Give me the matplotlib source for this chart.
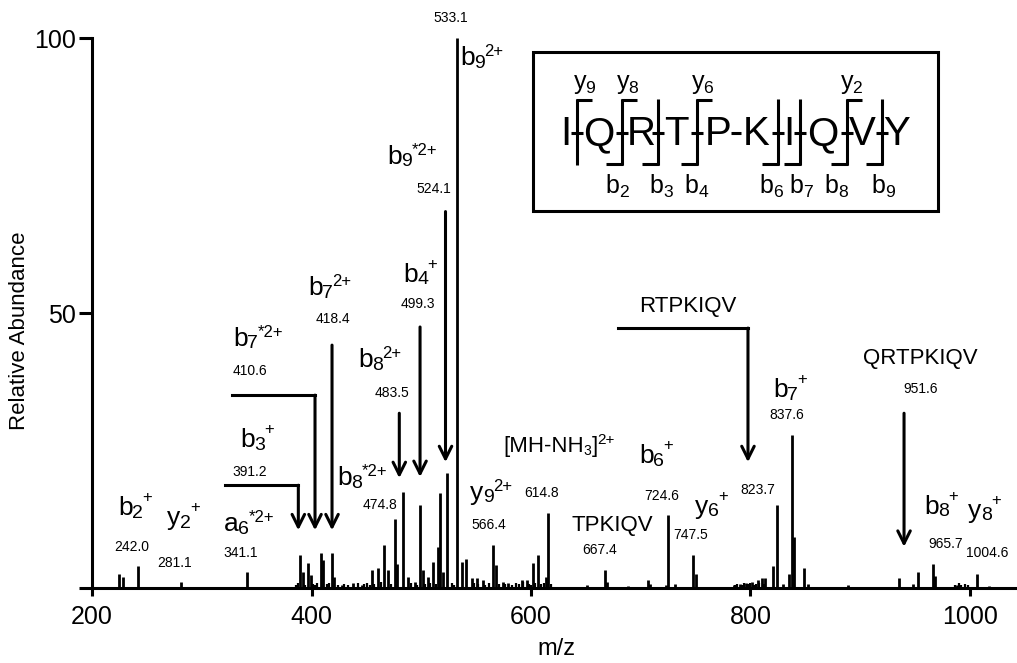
import matplotlib
matplotlib.use("Agg")
import matplotlib.pyplot as plt
from matplotlib.patches import Rectangle
from matplotlib.lines import Line2D
from matplotlib.transforms import IdentityTransform

plt.rcParams['font.family'] = ['Liberation Sans', 'DejaVu Sans']
plt.rcParams['mathtext.fontset'] = 'custom'
plt.rcParams['mathtext.rm'] = 'Liberation Sans'
plt.rcParams['mathtext.it'] = 'Liberation Sans:italic'
plt.rcParams['mathtext.bf'] = 'Liberation Sans:bold'

# ---------------- data ----------------
peak_mz = [224.9, 228.0, 241.9, 280.8, 341.2, 389.5, 392.0, 397.1, 399.3, 408.7,
           410.8, 418.7, 420.5, 427.5, 438.1, 445.7, 454.9, 460.9, 466.3, 470.0,
           476.1, 478.2, 483.6, 488.2, 494.3, 498.9, 501.9, 506.4, 511.0, 515.3,
           517.1, 519.5, 523.7, 532.9, 536.9, 540.8, 546.0, 550.5, 556.5, 565.7,
           567.9, 574.8, 579.3, 591.5, 596.1, 602.1, 606.1, 613.7, 615.8, 651.3,
           667.4, 669.5, 688.7, 706.9, 708.4, 723.0, 725.1, 731.2, 747.9, 750.1,
           785.0, 790.4, 796.0, 801.0, 806.8, 810.5, 813.2, 820.8, 824.4, 829.9,
           835.4, 837.5, 839.6, 849.0, 852.7, 888.5, 935.3, 948.3, 952.9, 966.0,
           968.1, 988.5, 1006.0, 1017.6]
peak_int = [2.5, 2.0, 4.0, 1.1, 3.0, 6.0, 3.0, 4.5, 2.4, 6.4,
            5.1, 6.4, 2.0, 0.5, 1.0, 0.5, 3.3, 3.7, 7.9, 3.3,
            12.5, 4.3, 17.5, 2.0, 1.1, 15.1, 3.3, 2.0, 4.8, 7.5,
            17.2, 3.0, 21.0, 100.0, 4.8, 5.3, 1.8, 1.8, 1.5, 7.8,
            4.2, 1.1, 1.0, 1.5, 1.5, 4.5, 6.0, 2.0, 13.6, 0.5,
            3.3, 1.1, 0.3, 1.5, 0.7, 0.5, 13.3, 0.7, 6.0, 2.5,
            0.5, 0.7, 0.9, 1.1, 1.5, 1.8, 1.8, 4.0, 15.1, 0.7,
            2.5, 27.8, 9.3, 3.7, 0.7, 0.5, 1.8, 0.7, 2.9, 4.4,
            2.2, 0.6, 2.5, 0.4]
noise_mz = [386, 388, 394, 401, 403, 405, 414, 416, 424, 430, 433, 442, 448, 451,
            453, 457, 463, 472, 491, 496, 503, 508, 513, 528, 530, 548, 552, 558,
            562, 571, 576, 583, 586, 589, 593, 598, 600, 604, 609, 612, 618,
            786, 788, 792, 794, 798, 800, 803, 805, 808, 812, 986, 990, 992, 995, 998]
noise_int = [0.6, 0.9, 0.5, 0.8, 0.6, 1.0, 0.7, 0.9, 0.5, 0.8, 0.6, 0.9, 0.7, 1.0,
             0.6, 0.8, 1.1, 0.7, 0.9, 0.6, 0.8, 1.0, 0.7, 0.9, 0.6, 1.0, 0.8, 0.6,
             0.9, 0.7, 0.8, 0.6, 0.9, 0.7, 1.1, 0.8, 0.6, 0.9, 0.7, 1.0, 0.8,
             0.6, 0.8, 0.5, 0.9, 0.7, 1.0, 0.6, 0.8, 0.9, 0.7, 0.6, 0.9, 0.5, 0.8, 0.6]

x_ticks = [200, 400, 600, 800, 1000]
y_ticks = [0, 50, 100]
y_tick_labels = ["", "50", "100"]

# arrows: (x, y_start, y_tip, horizontal start x or None)
arrows = [
    (388.0, 18.7, 10.5, 321.2),   # b3+
    (403.2, 35.1, 10.5, 327.6),   # b7*2+
    (418.7, 44.2, 10.5, None),    # b7 2+
    (480.0, 31.8, 20.0, None),    # b8 2+
    (498.9, 47.5, 20.2, None),    # b4+
    (522.1, 68.5, 22.9, None),    # b9*2+
    (797.7, 47.3, 22.9, 679.3),   # RTPKIQV
    (939.9, 31.8, 7.5, None),     # QRTPKIQV
]

# ion labels: (main, subscript, superscript, left x px, baseline y px)
ion_labels = [
    ("b", "2", "+", 118, 515),
    ("y", "2", "+", 167, 525),
    ("a", "6", "*2+", 224, 531),
    ("b", "3", "+", 240, 447),
    ("b", "7", "*2+", 233, 346),
    ("b", "7", "2+", 308, 295),
    ("b", "4", "+", 403, 282),
    ("b", "9", "*2+", 387, 164),
    ("b", "9", "2+", 460, 65),
    ("b", "8", "2+", 358, 367),
    ("b", "8", "*2+", 337, 485),
    ("y", "9", "2+", 470, 500),
    ("b", "6", "+", 639, 463),
    ("y", "6", "+", 695, 514),
    ("b", "7", "+", 773, 397),
    ("b", "8", "+", 924, 514),
    ("y", "8", "+", 968, 518),
]
# m/z value labels: (text, center x px, baseline y px)
mz_labels = [
    ("242.0", 132, 551), ("281.1", 175, 567), ("341.1", 241, 557),
    ("391.2", 250, 476), ("410.6", 250, 375), ("418.4", 333, 323),
    ("499.3", 418, 308), ("524.1", 434, 193), ("533.1", 451, 22),
    ("483.5", 392, 397), ("474.8", 380, 509), ("566.4", 489, 529),
    ("614.8", 542, 497), ("667.4", 600, 554), ("724.6", 662, 500),
    ("747.5", 691, 539), ("823.7", 758, 494), ("837.6", 787, 419),
    ("951.6", 921, 393), ("965.7", 946, 548), ("1004.6", 987, 557),
]
# fragment labels: (text, center x px, baseline y px)
frag_labels = [("RTPKIQV", 688, 312), ("QRTPKIQV", 920, 364), ("TPKIQV", 612, 531)]

# peptide sequence box
seq_letters = ["I", "Q", "R", "T", "P", "K", "I", "Q", "V", "Y"]
seq_x = [566, 599, 641, 676, 718, 756, 789, 823, 862, 897]
bond_x = [577, 622, 658, 697, 778, 800, 847, 882]
bond_top = [True, True, False, True, False, False, True, False]
bond_bot = [False, True, True, True, True, True, True, True]
y_ion_labels = [(r'$\mathregular{y_9}$', 585), (r'$\mathregular{y_8}$', 628),
                (r'$\mathregular{y_6}$', 703), (r'$\mathregular{y_2}$', 852)]
b_ion_labels = [(r'$\mathregular{b_2}$', 618), (r'$\mathregular{b_3}$', 662),
                (r'$\mathregular{b_4}$', 697), (r'$\mathregular{b_6}$', 772),
                (r'$\mathregular{b_7}$', 802), (r'$\mathregular{b_8}$', 837),
                (r'$\mathregular{b_9}$', 884)]

# ---------------- figure ----------------
W, H = 1017, 663
fig = plt.figure(figsize=(W / 100, H / 100), dpi=100)
renderer = fig.canvas.get_renderer()
ident = IdentityTransform()

def P(x, y):
    return (x / W, 1 - y / H)

def dtext(x, y, s, fs, **kw):
    # x, y in pixel coords measured from top-left
    return fig.text(x, H - y, s, fontsize=fs, transform=ident, va='baseline', **kw)

def right_px(t):
    bb = t.get_window_extent(renderer)
    return bb.x1

ax = fig.add_axes([92 / W, 1 - 588 / H, (1017 - 92) / W, (588 - 38.5) / H])
ax.set_xlim(200, 200 + 925 / 1.0975)
ax.set_ylim(0, 100)

ax.vlines(noise_mz, 0, noise_int, color='black', lw=1.6, clip_on=False)
ax.vlines(peak_mz, 0, peak_int, color='black', lw=2.0, clip_on=False)

for sp in ['top', 'right']:
    ax.spines[sp].set_visible(False)
for sp in ['left', 'bottom']:
    ax.spines[sp].set_linewidth(2.2)
ax.set_xticks(x_ticks)
ax.set_yticks(y_ticks)
ax.set_yticklabels(y_tick_labels)
ax.tick_params(axis='x', length=6, width=2.2, labelsize=18, pad=6)
ax.tick_params(axis='y', length=9.5, width=2.2, labelsize=18, pad=2)

fig.text(*P(556, 649), "m/z", ha='center', va='center', fontsize=17)
fig.text(*P(20, 331), "Relative Abundance", ha='center', va='center',
         rotation=90, fontsize=16)

# arrows
for x, ys, yt, xh in arrows:
    if xh is not None:
        ax.plot([xh, x], [ys, ys], color='black', lw=2.2,
                solid_capstyle='projecting')
    ax.annotate('', xy=(x, yt), xytext=(x, ys),
                arrowprops=dict(arrowstyle='->,head_length=0.9,head_width=0.45',
                                lw=2.2, color='black', shrinkA=0, shrinkB=0,
                                mutation_scale=10))

# ion labels built from main letter + subscript + superscript
for main, sub, sup, x, y in ion_labels:
    t1 = dtext(x, y, main, 19)
    xr = right_px(t1)
    t2 = fig.text(xr - 0.5, H - y - 2.5, sub, fontsize=14, transform=ident,
                  va='baseline')
    xr2 = right_px(t2)
    raise_px = 13 if sup == "+" else 9
    fig.text(xr2 - 0.5, H - y + raise_px, sup, fontsize=12, transform=ident,
             va='baseline')

for s, x, y in mz_labels:
    dtext(x, y, s, 10, ha='center')
for s, x, y in frag_labels:
    dtext(x, y, s, 16, ha='center')

# [MH-NH3]2+
t = dtext(503, 452, "[MH-NH", 16)
xr = right_px(t)
t = fig.text(xr, H - 452 - 3, "3", fontsize=10, transform=ident, va='baseline')
xr = right_px(t)
t = fig.text(xr, H - 452, "]", fontsize=16, transform=ident, va='baseline')
xr = right_px(t)
fig.text(xr, H - 452 + 8, "2+", fontsize=11, transform=ident, va='baseline')

# sequence box
x0, y0 = P(533, 211)
x1, y1 = P(938, 52)
fig.add_artist(Rectangle((x0, y0), x1 - x0, y1 - y0, transform=fig.transFigure,
                         fill=False, lw=2.2, edgecolor='black'))
for L, x in zip(seq_letters, seq_x):
    fig.text(*P(x, 145), L, ha='center', va='baseline', fontsize=29)

def seg(xa, ya, xb, yb):
    pa, pb = P(xa, ya), P(xb, yb)
    fig.add_artist(Line2D([pa[0], pb[0]], [pa[1], pb[1]], transform=fig.transFigure,
                          color='black', lw=2.2, solid_capstyle='butt'))

for bx, top, bot in zip(bond_x, bond_top, bond_bot):
    seg(bx, 99, bx, 165)
    seg(bx - 6, 133, bx + 6, 133)
    if top:
        seg(bx - 1, 100, bx + 15, 100)
    if bot:
        seg(bx - 16, 164, bx + 1, 164)
seg(731, 133, 741, 133)

for s, x in y_ion_labels:
    fig.text(*P(x, 89), s, ha='center', va='baseline', fontsize=18)
for s, x in b_ion_labels:
    fig.text(*P(x, 194), s, ha='center', va='baseline', fontsize=18)

fig.savefig("out.png", dpi=100)
